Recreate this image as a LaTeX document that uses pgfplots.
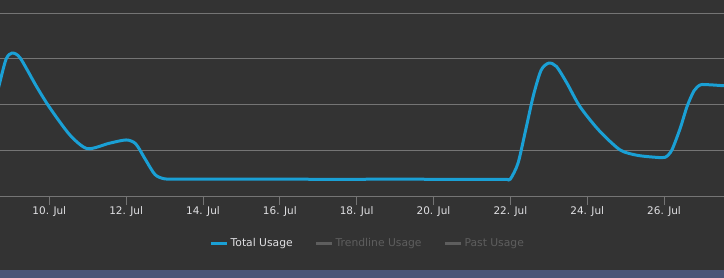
\documentclass[border=0pt]{standalone}
\usepackage{pgfplots}
\pgfplotsset{compat=1.18}
\usepackage{fontspec}
\setmainfont{DejaVu Sans}
\definecolor{bg}{HTML}{333333}
\definecolor{band}{HTML}{4A5576}
\definecolor{gridc}{HTML}{757575}
\definecolor{lineblue}{HTML}{1AA0D5}
\definecolor{ticktxt}{HTML}{E0E0E3}
\definecolor{hidden}{HTML}{5E5E5E}
\begin{document}
\begin{tikzpicture}
\fill[bg] (0,-82bp) rectangle (724bp,196bp);
\fill[band] (0,-82bp) rectangle (724bp,-74bp);
\begin{axis}[
  at={(0,0)}, anchor=origin,
  scale only axis, width=724bp, height=183bp,
  xmin=8.717, xmax=27.56, ymin=0, ymax=4,
  axis line style={draw=none},
  ytick={1,2,3,4}, yticklabels={},
  ymajorgrids, grid style={gridc, line width=0.8bp},
  y tick style={draw=none},
  xtick={10,12,...,26},
  xticklabels={10. Jul,12. Jul,14. Jul,16. Jul,18. Jul,20. Jul,22. Jul,24. Jul,26. Jul},
  xtick pos=bottom,
  tick align=outside,
  major tick length=9bp,
  x tick style={gridc, line width=0.8bp},
  xticklabel style={text=ticktxt, font=\fontsize{10.5}{12}\selectfont, yshift=2bp},
  clip=true,
  legend columns=3,
  legend style={at={(0.508,-0.257)}, anchor=center, draw=none, fill=none,
    font=\fontsize{10.8}{12}\selectfont,
    /tikz/every even column/.append style={column sep=20bp}},
  legend image code/.code={\draw[#1, line width=3bp] (0bp,0bp) -- (16bp,0bp);},
]
\draw[gridc, line width=0.8bp] (axis cs:8.717,0) -- (axis cs:27.56,0);
\addplot[lineblue, line width=3bp, smooth, tension=0.45] coordinates {
 (8.45,1.55) (8.717,2.50) (8.88,3.00) (9.03,3.125) (9.24,3.02) (9.67,2.39)
 (10.02,1.92) (10.54,1.33) (10.99,1.035) (11.55,1.15) (12.0,1.225)
 (12.25,1.14) (12.5,0.80) (12.75,0.47) (13.0,0.375) (13.4,0.37)
 (14,0.37) (15,0.37) (16,0.37) (17,0.365) (18,0.365) (19,0.37) (20,0.365)
 (21,0.365) (21.6,0.365) (21.9,0.366) (22.0,0.37) (22.2,0.72) (22.4,1.45)
 (22.6,2.20) (22.8,2.75) (23.0,2.905) (23.2,2.83) (23.47,2.47) (23.81,1.955)
 (24.3,1.44) (24.85,1.01) (25.3,0.89) (25.8,0.845) (26.03,0.847) (26.2,1.0)
 (26.42,1.48) (26.6,1.96) (26.78,2.30) (26.95,2.43) (27.2,2.43) (27.56,2.41)
 (27.8,2.40)
};
\addlegendentry{\textcolor{ticktxt}{Total Usage}}
\addlegendimage{hidden}
\addlegendentry{\textcolor{hidden}{Trendline Usage}}
\addlegendimage{hidden}
\addlegendentry{\textcolor{hidden}{Past Usage}}
\end{axis}
\pgfresetboundingbox
\path (0,-82bp) rectangle (724bp,196bp);
\end{tikzpicture}
\end{document}
